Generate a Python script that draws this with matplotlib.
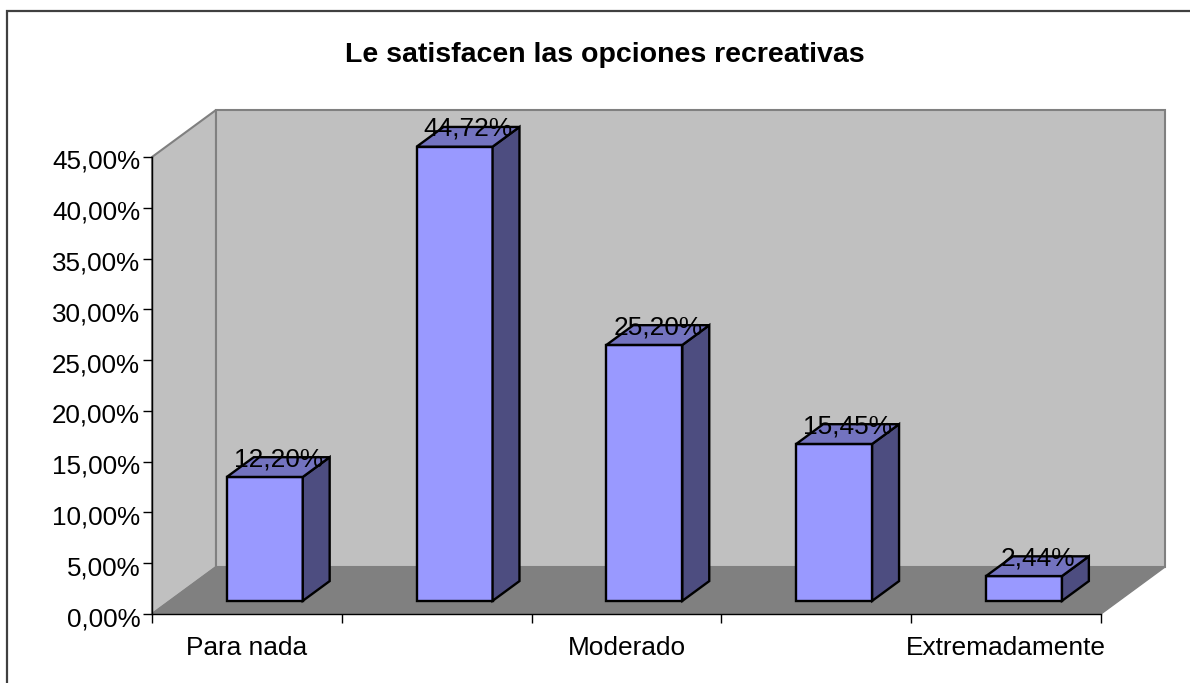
#!/usr/bin/env python3
# -*- coding: utf-8 -*-
import matplotlib
matplotlib.use("Agg")
import matplotlib.pyplot as plt
from matplotlib.patches import Polygon
from matplotlib.transforms import ScaledTranslation

plt.rcParams['font.family'] = ['Liberation Sans', 'DejaVu Sans']

# Datos
categorias = ["Para nada", "", "Moderado", "", "Extremadamente"]
valores = [12.20, 44.72, 25.20, 15.45, 2.44]
etiquetas = ["12,20%", "44,72%", "25,20%", "15,45%", "2,44%"]
marcas_y = [0, 5, 10, 15, 20, 25, 30, 35, 40, 45]
textos_y = ["0,00%", "5,00%", "10,00%", "15,00%", "20,00%",
            "25,00%", "30,00%", "35,00%", "40,00%", "45,00%"]

W, H = 1190, 683
fig = plt.figure(figsize=(W / 100, H / 100), dpi=100, facecolor="white")

# Plano frontal del grafico, en pixeles de la imagen
x0, x1, y_base, y_tope = 152, 1101, 614, 157
ax = fig.add_axes([x0 / W, 1 - y_base / H, (x1 - x0) / W, (y_base - y_tope) / H])
ax.set_xlim(0, len(valores))
ax.set_ylim(0, 45)
ax.patch.set_visible(False)

# Profundidad en unidades de datos
prof_x = 64 / (x1 - x0) * len(valores)
prof_y = 47 / (y_base - y_tope) * 45


def cara(puntos, color, borde, lw, z):
    ax.add_patch(Polygon(puntos, closed=True, facecolor=color, edgecolor=borde,
                         linewidth=lw, clip_on=False, zorder=z, joinstyle="miter"))


n = len(valores)
# Paredes y piso
cara([(0, 0), (prof_x, prof_y), (prof_x, 45 + prof_y), (0, 45)], "#C0C0C0", "#808080", 1.5, 1)
cara([(prof_x, prof_y), (n + prof_x, prof_y), (n + prof_x, 45 + prof_y), (prof_x, 45 + prof_y)],
     "#C0C0C0", "#808080", 1.5, 1)
cara([(0, 0), (n, 0), (n + prof_x, prof_y), (prof_x, prof_y)], "#808080", "#808080", 1.0, 2)

# Barras
ancho = 0.4
f1, f2 = 0.28, 0.70
for i, v in enumerate(valores):
    a = i + 0.3
    b = a + ancho
    bx, by = f1 * prof_x, f1 * prof_y
    dx, dy = (f2 - f1) * prof_x, (f2 - f1) * prof_y
    cara([(a + bx, by), (b + bx, by), (b + bx, by + v), (a + bx, by + v)],
         "#9999FF", "black", 1.7, 3)
    cara([(b + bx, by), (b + bx + dx, by + dy), (b + bx + dx, by + v + dy), (b + bx, by + v)],
         "#4D4D80", "black", 1.7, 3)
    cara([(a + bx, by + v), (b + bx, by + v), (b + bx + dx, by + v + dy), (a + bx + dx, by + v + dy)],
         "#7373BF", "black", 1.7, 3)
    ax.text((a + b) / 2 + bx + dx / 2, by + v + dy - 0.2, etiquetas[i], ha="center", va="center",
            fontsize=18.9, color="black", zorder=4)

# Ejes
for lado in ["top", "right"]:
    ax.spines[lado].set_visible(False)
for lado in ["left", "bottom"]:
    ax.spines[lado].set_color("black")
    ax.spines[lado].set_linewidth(1.0)
    ax.spines[lado].set_zorder(5)
ax.set_yticks(marcas_y)
ax.set_yticklabels(textos_y)
ax.set_xticks(range(n + 1))
ax.set_xticklabels([])
ax.set_xticks([i + 0.5 for i in range(n)], minor=True)
ax.set_xticklabels(categorias, minor=True)
ax.tick_params(axis="x", which="major", length=6.5, width=1, color="black")
ax.tick_params(axis="x", which="minor", length=0, pad=16, labelsize=18.9)
ax.tick_params(axis="y", length=6.5, width=1, color="black", labelsize=18.7, pad=2)

# Bajar un poco las etiquetas del eje y
bajar = ScaledTranslation(0, -2.5 / 100, fig.dpi_scale_trans)
for t in ax.get_yticklabels():
    t.set_transform(t.get_transform() + bajar)

# Titulo y marco
fig.text(605 / W, 1 - 55 / H, "Le satisfacen las opciones recreativas", ha="center", va="center",
         fontsize=20.5, fontweight="bold", color="black")
fig.add_artist(plt.Line2D([7 / W, 7 / W, 1], [0, 1 - 11 / H, 1 - 11 / H], color="#404040",
                          linewidth=1.6, solid_joinstyle="miter"))

fig.savefig("out.png", dpi=100)
